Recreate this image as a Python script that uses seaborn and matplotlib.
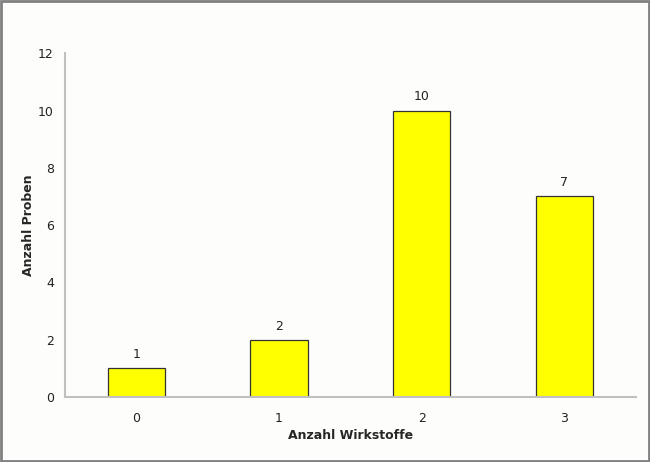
import matplotlib
matplotlib.use("Agg")
import matplotlib.pyplot as plt
import seaborn as sns
import pandas as pd

# Anzahl Wirkstoffe pro Probe
wirkstoffe = ["0", "1", "2", "3"]
proben = [1, 2, 10, 7]

df = pd.DataFrame({"Anzahl Wirkstoffe": wirkstoffe, "Anzahl Proben": proben})

sns.set_style("white")
plt.rcParams['font.family'] = ['DejaVu Sans']

fig = plt.figure(figsize=(6.5, 4.62), dpi=100, facecolor="#fdfdfb")
ax = fig.add_axes([0.1, 0.1407, 0.878, 0.744])
ax.set_facecolor("#fdfdfb")

sns.barplot(data=df, x="Anzahl Wirkstoffe", y="Anzahl Proben", color="#ffff00",
            width=0.4, edgecolor="#333333", linewidth=0.9, saturation=1, ax=ax)

for i, v in enumerate(proben):
    ax.text(i, v + 0.25, str(v), ha="center", va="bottom", fontsize=9, color="#222222")

ax.set_ylim(0, 12)
ax.set_xlim(-0.5, 3.5)
ax.set_yticks(range(0, 13, 2))
ax.tick_params(axis="y", labelsize=9, length=0, pad=8, colors="#222222")
ax.tick_params(axis="x", labelsize=9, length=0, pad=11, colors="#222222")
ax.set_xlabel("Anzahl Wirkstoffe", fontsize=9, fontweight="bold", labelpad=3)
ax.set_ylabel("Anzahl Proben", fontsize=9, fontweight="bold", labelpad=2)

for s in ["top", "right"]:
    ax.spines[s].set_visible(False)
for s in ["left", "bottom"]:
    ax.spines[s].set_color("#c0c0c0")
    ax.spines[s].set_linewidth(1.5)

# gray frame around the figure
fig.patches.append(plt.Rectangle((0.001, 0.002), 0.997, 0.995, transform=fig.transFigure,
                                 fill=False, edgecolor="#808080", linewidth=2))

fig.savefig("out.png", dpi=100, facecolor=fig.get_facecolor())
